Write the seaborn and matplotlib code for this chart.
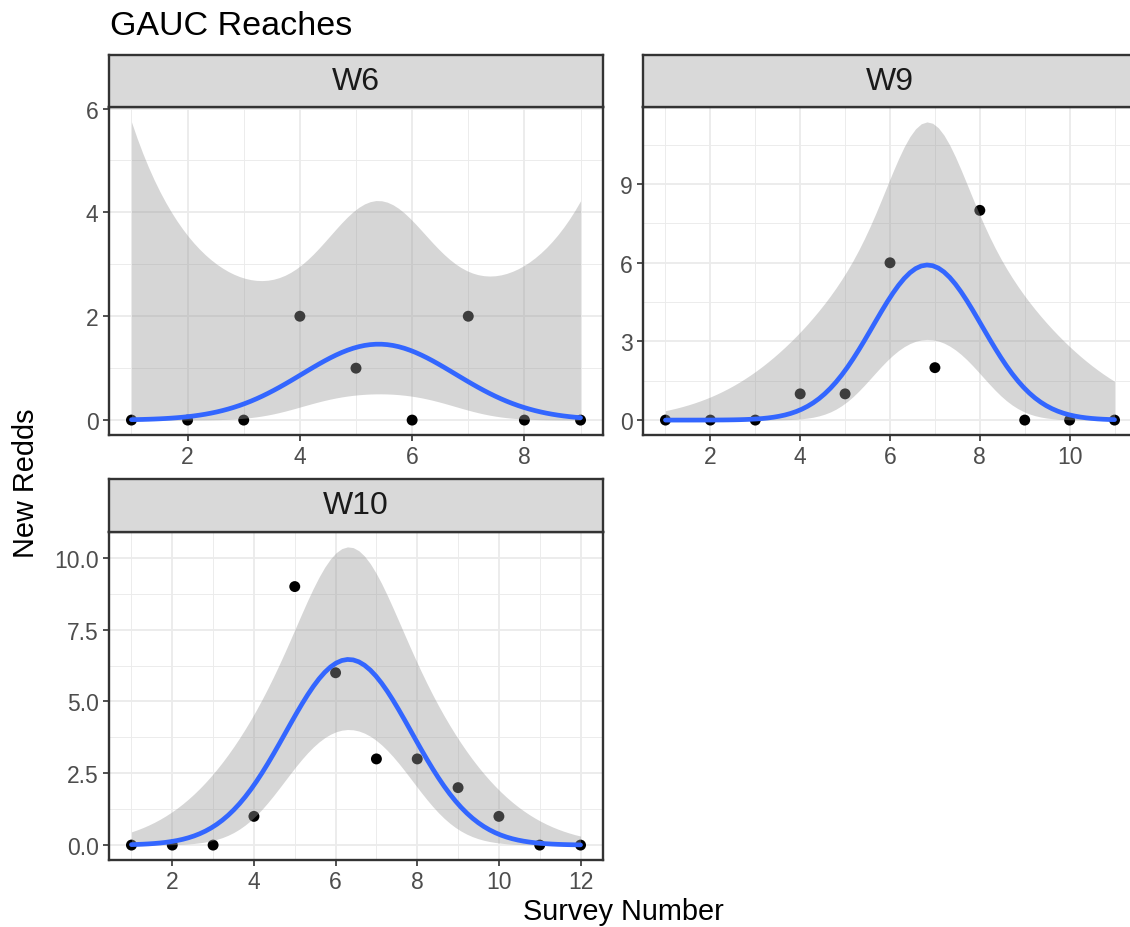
import numpy as np
import pandas as pd
import matplotlib
matplotlib.use("Agg")
import matplotlib.pyplot as plt
import seaborn as sns

# ---------------- data ----------------
reaches = ["W6", "W9", "W10"]
w6_survey = [1, 2, 3, 4, 5, 6, 7, 8, 9]
w6_redds = [0, 0, 0, 2, 1, 0, 2, 0, 0]
w9_survey = [1, 2, 3, 4, 5, 6, 7, 8, 9, 10, 11]
w9_redds = [0, 0, 0, 1, 1, 6, 2, 8, 0, 0, 0]
w10_survey = [1, 2, 3, 4, 5, 6, 7, 8, 9, 10, 11, 12]
w10_redds = [0, 0, 0, 1, 9, 6, 3, 3, 2, 1, 0, 0]

w6_xticks = [2, 4, 6, 8]
w6_yticks = [0, 2, 4, 6]
w6_yticklabels = ["0", "2", "4", "6"]
w9_xticks = [2, 4, 6, 8, 10]
w9_yticks = [0, 3, 6, 9]
w9_yticklabels = ["0", "3", "6", "9"]
w10_xticks = [2, 4, 6, 8, 10, 12]
w10_yticks = [0, 2.5, 5.0, 7.5, 10.0]
w10_yticklabels = ["0.0", "2.5", "5.0", "7.5", "10.0"]

title = "GAUC Reaches"
xlabel = "Survey Number"
ylabel = "New Redds"

df = pd.concat([
    pd.DataFrame({"reach": "W6", "survey": w6_survey, "redds": w6_redds}),
    pd.DataFrame({"reach": "W9", "survey": w9_survey, "redds": w9_redds}),
    pd.DataFrame({"reach": "W10", "survey": w10_survey, "redds": w10_redds}),
], ignore_index=True)

# ------ quasi-Poisson GLM smoother (y ~ poly(x,2), log link) ------
def poisson_quad_smooth(x, y, n=80, level=0.95):
    x = np.asarray(x, float)
    y = np.asarray(y, float)
    m, s = x.mean(), x.std()
    def design(v):
        z = (v - m) / s
        return np.column_stack([np.ones_like(z), z, z * z])
    X = design(x)
    mu = y + 0.1
    eta = np.log(mu)
    beta = np.zeros(3)
    for _ in range(100):
        w = mu
        zz = eta + (y - mu) / mu
        XtW = X.T * w
        new = np.linalg.solve(XtW @ X, XtW @ zz)
        eta = X @ new
        mu = np.exp(eta)
        if np.max(np.abs(new - beta)) < 1e-10:
            beta = new
            break
        beta = new
    disp = np.sum((y - mu) ** 2 / mu) / (len(y) - X.shape[1])
    cov = np.linalg.inv((X.T * mu) @ X) * disp
    xg = np.linspace(x.min(), x.max(), n)
    G = design(xg)
    eg = G @ beta
    se = np.sqrt(np.einsum("ij,jk,ik->i", G, cov, G))
    q = 1.959963984540054
    return xg, np.exp(eg), np.exp(eg - q * se), np.exp(eg + q * se)

# ---------------- style ----------------
sns.set_theme(style="white")
plt.rcParams["font.family"] = ["Liberation Sans", "DejaVu Sans"]

W, H = 1130, 928
fig = plt.figure(figsize=(W / 100, H / 100), dpi=100)

def fr(l, t, r, b):
    return [l / W, 1 - b / H, (r - l) / W, (b - t) / H]

border = "#333333"
panels = {
    "W6": dict(box=(109, 108, 603, 436), strip=(109, 56, 603, 108),
               xticks=w6_xticks, yticks=w6_yticks, ylabels=w6_yticklabels),
    "W9": dict(box=(643, 108, 1137, 436), strip=(643, 56, 1137, 108),
               xticks=w9_xticks, yticks=w9_yticks, ylabels=w9_yticklabels),
    "W10": dict(box=(109, 533, 603, 861), strip=(109, 480, 603, 533),
                xticks=w10_xticks, yticks=w10_yticks, ylabels=w10_yticklabels),
}

for reach in reaches:
    p = panels[reach]
    sub = df[df["reach"] == reach]
    ax = fig.add_axes(fr(*p["box"]))
    xg, fit, lo, hi = poisson_quad_smooth(sub["survey"], sub["redds"])

    sns.scatterplot(data=sub, x="survey", y="redds", ax=ax, color="black",
                    s=62, edgecolor="none", linewidth=0, zorder=2)
    ax.fill_between(xg, lo, hi, color="#999999", alpha=0.4, linewidth=0, zorder=3)
    sns.lineplot(x=xg, y=fit, ax=ax, color="#3366FF", linewidth=3.4, zorder=4)

    xmin, xmax = sub["survey"].min(), sub["survey"].max()
    xr = xmax - xmin
    ax.set_xlim(xmin - 0.05 * xr, xmax + 0.05 * xr)
    ymin = min(sub["redds"].min(), lo.min())
    ymax = max(sub["redds"].max(), hi.max())
    yr = ymax - ymin
    ax.set_ylim(ymin - 0.05 * yr, ymax + 0.05 * yr)

    ax.set_xticks(p["xticks"])
    ax.set_xticklabels([str(v) for v in p["xticks"]])
    ax.set_yticks(p["yticks"])
    ax.set_yticklabels(p["ylabels"])
    xt = p["xticks"]
    xstep = xt[1] - xt[0]
    minx = np.arange(xt[0] - xstep / 2, xmax + 0.6, xstep)
    ax.set_xticks(minx, minor=True)
    yt = p["yticks"]
    ystep = yt[1] - yt[0]
    miny = np.arange(yt[0] + ystep / 2, ymax + 0.06 * yr, ystep)
    ax.set_yticks(miny, minor=True)

    ax.grid(True, which="major", color="#EBEBEB", linewidth=1.3)
    ax.grid(True, which="minor", color="#EBEBEB", linewidth=0.65)
    ax.set_axisbelow(True)
    ax.set_facecolor("white")
    for sp in ax.spines.values():
        sp.set_visible(True)
        sp.set_color(border)
        sp.set_linewidth(1.7)
    ax.tick_params(which="major", length=4.5, width=1.2, color=border,
                   labelsize=16.5, labelcolor="#4D4D4D", pad=3,
                   bottom=True, left=True)
    ax.tick_params(which="minor", length=0, bottom=False, left=False)
    ax.set_xlabel("")
    ax.set_ylabel("")

    sax = fig.add_axes(fr(*p["strip"]))
    sax.set_facecolor("#D9D9D9")
    sax.set_xticks([])
    sax.set_yticks([])
    for sp in sax.spines.values():
        sp.set_visible(True)
        sp.set_color(border)
        sp.set_linewidth(1.7)
    sax.text(0.5, 0.5, reach, transform=sax.transAxes, ha="center", va="center",
             fontsize=23, color="#1A1A1A")

fig.text(110 / W, 1 - 35 / H, title, ha="left", va="baseline", fontsize=24.5, color="black")
fig.text(623 / W, 1 - 920 / H, xlabel, ha="center", va="baseline", fontsize=20.8, color="black")
fig.text(26 / W, 1 - 483 / H, ylabel, ha="center", va="center", rotation=90,
         fontsize=20.8, color="black")

fig.savefig("out.png", dpi=100)
